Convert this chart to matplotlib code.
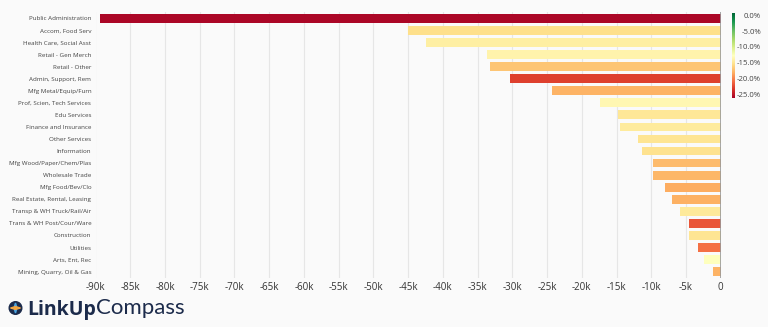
import numpy as np
import matplotlib.pyplot as plt
from matplotlib import colors as mcolors
from matplotlib.patches import Circle, Polygon

industries = ['Public Administration', 'Accom, Food Serv', 'Health Care, Social Asst',
              'Retail - Gen Merch', 'Retail - Other', 'Admin, Support, Rem',
              'Mfg Metal/Equip/Furn', 'Prof, Scien, Tech Services', 'Edu Services',
              'Finance and Insurance', 'Other Services', 'Information',
              'Mfg Wood/Paper/Chem/Plas', 'Wholesale Trade', 'Mfg Food/Bev/Clo',
              'Real Estate, Rental, Leasing', 'Transp & WH Truck/Rail/Air',
              'Trans & WH Post/Cour/Ware', 'Construction', 'Utilities',
              'Arts, Ent, Rec', 'Mining, Quarry, Oil & Gas']
change = [-89300, -45000, -42400, -33600, -33200, -30400, -24300, -17400, -14800,
          -14500, -11900, -11300, -9800, -9700, -8000, -7000, -5900, -4600, -4600,
          -3200, -2400, -1100]
pct = [-25.5, -15.2, -13.9, -13.5, -16.6, -22.5, -17.6, -13.2, -14.5, -14.2, -14.8,
       -15.0, -17.2, -17.4, -17.9, -17.7, -14.3, -21.6, -14.8, -20.4, -12.5, -17.6]
xticks = list(range(-90000, 1, 5000))
xlabels = [f'{t//1000}k' if t else '0' for t in xticks]
cb_ticks = [0, -5, -10, -15, -20, -25]

bg = '#fafafa'
plt.rcParams['font.family'] = ['Open Sans', 'DejaVu Sans']

fig = plt.figure(figsize=(7.68, 3.27), dpi=100, facecolor=bg)
ax = fig.add_axes([95.5/768, 1-277.7/327, 625.2/768, 265.4/327], facecolor=bg)

cmap = plt.get_cmap('RdYlGn')
norm = mcolors.Normalize(vmin=-25.9, vmax=0.9)
y = np.arange(len(industries))
ax.barh(y, change, height=0.72, color=cmap(norm(np.array(pct))), zorder=3)

ax.set_xlim(-90000, 0)
ax.set_ylim(len(industries) - 0.5, -0.5)
ax.set_xticks(xticks)
ax.set_xticklabels(xlabels, fontsize=7, color='#333333')
ax.set_yticks(y)
ax.set_yticklabels(industries, fontsize=4.5, color='#444444')
ax.tick_params(axis='both', length=0)
ax.tick_params(axis='y', pad=3)
ax.tick_params(axis='x', pad=3)
ax.grid(axis='x', color='#e6e6e6', lw=0.8, zorder=0)
for s in ax.spines.values():
    s.set_visible(False)
ax.axvline(0, color='#999999', lw=1.2, zorder=4)

# colour scale
cax = fig.add_axes([732.3/768, 1-98.3/327, 2.4/768, 85/327])
cb = fig.colorbar(plt.cm.ScalarMappable(norm=norm, cmap=cmap), cax=cax)
cb.set_ticks([])
cb.outline.set_visible(False)

# overlay for logo and colour-scale labels
lax = fig.add_axes([0, 0, 1, 1], facecolor='none')
lax.set_xlim(0, 768)
lax.set_ylim(327, 0)
lax.axis('off')
for t in cb_ticks:
    ypix = 13.3 + (98.3 - 13.3) * (t - norm.vmax) / (norm.vmin - norm.vmax)
    lax.text(761, ypix, f'{t:.1f}%' if t else '0.0%', fontsize=5.6, color='#444444',
             ha='right', va='center')

lax.add_patch(Circle((15.5, 308), 6.3, color='#1c2b4b'))
lax.add_patch(Polygon([(15.5, 303), (17, 308), (15.5, 313), (14, 308)], color='#4aa3df'))
lax.add_patch(Polygon([(10.5, 308), (15.5, 306.6), (20.5, 308), (15.5, 309.4)], color='#f4a640'))
lax.text(27, 314.5, 'LinkUp', fontsize=14, fontweight='bold', color='#1c2b4b',
         family=['Open Sans', 'DejaVu Sans'], va='baseline')
lax.text(96, 314.5, 'Compass', fontsize=16, fontweight='normal', color='#1c2b4b',
         family=['Lato', 'DejaVu Sans'], va='baseline')

fig.savefig('out.png', dpi=100, facecolor=bg)
